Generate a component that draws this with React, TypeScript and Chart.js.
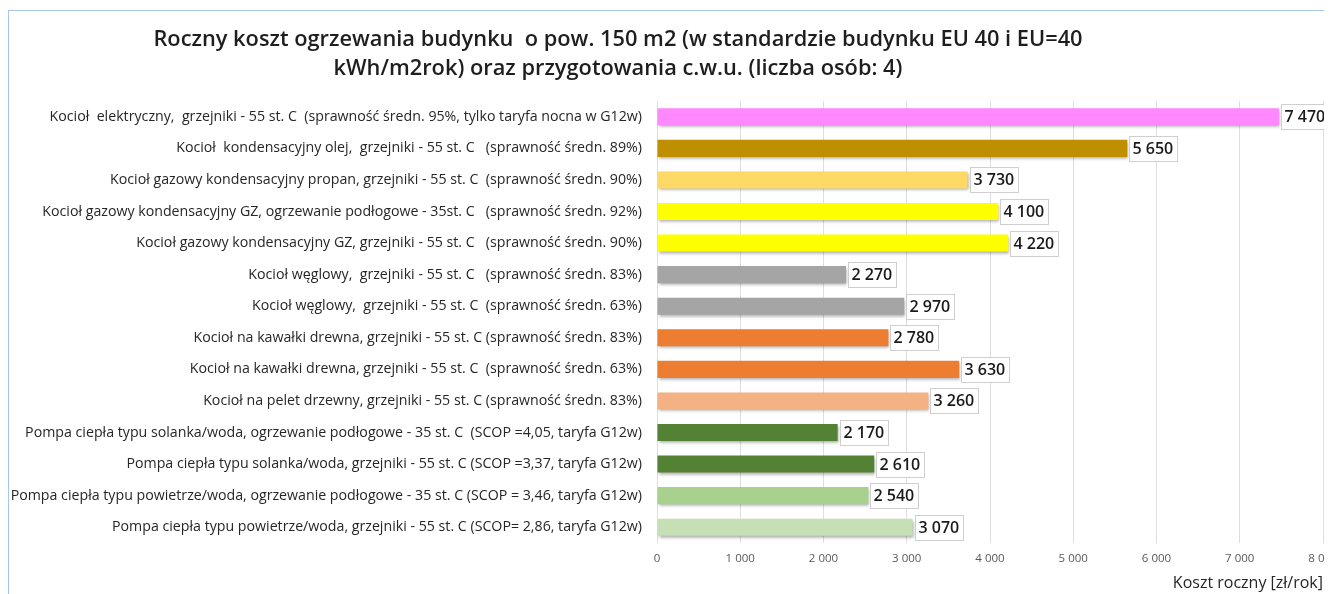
import React, { useEffect, useRef } from "react";
import { Chart, registerables } from "chart.js";

Chart.register(...registerables);

const titleLines = [
  "Roczny koszt ogrzewania budynku  o pow. 150 m2 (w standardzie budynku EU 40 i EU=40",
  "kWh/m2rok) oraz przygotowania c.w.u. (liczba osób: 4)",
];

const categories = [
  "Kocioł  elektryczny,  grzejniki - 55 st. C  (sprawność średn. 95%, tylko taryfa nocna w G12w)",
  "Kocioł  kondensacyjny olej,  grzejniki - 55 st. C   (sprawność średn. 89%)",
  "Kocioł gazowy kondensacyjny propan, grzejniki - 55 st. C  (sprawność średn. 90%)",
  "Kocioł gazowy kondensacyjny GZ, ogrzewanie podłogowe - 35st. C   (sprawność średn. 92%)",
  "Kocioł gazowy kondensacyjny GZ, grzejniki - 55 st. C   (sprawność średn. 90%)",
  "Kocioł węglowy,  grzejniki - 55 st. C   (sprawność średn. 83%)",
  "Kocioł węglowy,  grzejniki - 55 st. C  (sprawność średn. 63%)",
  "Kocioł na kawałki drewna, grzejniki - 55 st. C (sprawność średn. 83%)",
  "Kocioł na kawałki drewna, grzejniki - 55 st. C  (sprawność średn. 63%)",
  "Kocioł na pelet drzewny, grzejniki - 55 st. C (sprawność średn. 83%)",
  "Pompa ciepła typu solanka/woda, ogrzewanie podłogowe - 35 st. C  (SCOP =4,05, taryfa G12w)",
  "Pompa ciepła typu solanka/woda, grzejniki - 55 st. C (SCOP =3,37, taryfa G12w)",
  "Pompa ciepła typu powietrze/woda, ogrzewanie podłogowe - 35 st. C (SCOP = 3,46, taryfa G12w)",
  "Pompa ciepła typu powietrze/woda, grzejniki - 55 st. C (SCOP= 2,86, taryfa G12w)",
];

const values = [7470, 5650, 3730, 4100, 4220, 2270, 2970, 2780, 3630, 3260, 2170, 2610, 2540, 3070];

const barColors = [
  "#FF88FF",
  "#BF8F00",
  "#FFD966",
  "#FFFF00",
  "#FFFF00",
  "#A5A5A5",
  "#A5A5A5",
  "#ED7D31",
  "#ED7D31",
  "#F4B183",
  "#548235",
  "#548235",
  "#A9D18E",
  "#C5E0B4",
];

const xMin = 0;
const xMax = 8000;
const xStep = 1000;
const xAxisTitle = "Koszt roczny [zł/rok]";

const fmt = (v: number) => String(Math.round(v)).replace(/\B(?=(\d{3})+(?!\d))/g, " ");

const barShadow = {
  id: "barShadow",
  beforeDatasetsDraw(chart: any) {
    const c = chart.ctx;
    c.save();
    c.shadowColor = "rgba(0,0,0,0.35)";
    c.shadowBlur = 3;
    c.shadowOffsetX = 1;
    c.shadowOffsetY = 2;
  },
  afterDatasetsDraw(chart: any) {
    chart.ctx.restore();
  },
};

const valueLabels = {
  id: "valueLabels",
  afterDatasetsDraw(chart: any) {
    const ctx = chart.ctx;
    const meta = chart.getDatasetMeta(0);
    ctx.save();
    ctx.font = '600 16px "Open Sans"';
    meta.data.forEach((bar: any, i: number) => {
      const text = fmt(values[i]);
      const w = ctx.measureText(text).width;
      const x = Math.round(bar.x + 2);
      const bh = 25;
      const bw = Math.round(w + 7);
      const top = Math.round(bar.y - bh / 2);
      ctx.fillStyle = "#ffffff";
      ctx.fillRect(x, top, bw, bh);
      ctx.strokeStyle = "#cfcfcf";
      ctx.lineWidth = 1;
      ctx.strokeRect(x + 0.5, top + 0.5, bw, bh);
      ctx.fillStyle = "#1a1a1a";
      ctx.textBaseline = "middle";
      ctx.textAlign = "left";
      ctx.fillText(text, x + 3.5, bar.y + 1);
    });
    ctx.restore();
  },
};

function App() {
  const ref = useRef<HTMLCanvasElement | null>(null);
  useEffect(() => {
    if (!ref.current) return;
    const chart = new Chart(ref.current, {
      type: "bar",
      data: {
        labels: categories,
        datasets: [
          {
            data: values,
            backgroundColor: barColors,
            borderWidth: 0,
            categoryPercentage: 1,
            barPercentage: 0.54,
          },
        ],
      },
      options: {
        indexAxis: "y",
        animation: false,
        responsive: false,
        layout: { padding: { top: 90, right: 24, left: 0, bottom: 0 } },
        plugins: {
          legend: { display: false },
          tooltip: { enabled: false },
        },
        scales: {
          x: {
            min: xMin,
            max: xMax,
            ticks: {
              stepSize: xStep,
              padding: 9,
              color: "#595959",
              font: { family: "Open Sans", size: 11.5 },
              callback: (v: any) => fmt(Number(v)),
            },
            grid: { color: "#dedede", drawTicks: false },
            border: { display: false },
            title: {
              display: true,
              text: xAxisTitle,
              align: "end",
              color: "#262626",
              font: { family: "Open Sans", size: 16 },
              padding: { top: 0, bottom: 2 },
            },
            afterFit: (s: any) => {
              s.height = 52;
            },
          },
          y: {
            ticks: {
              padding: 15,
              color: "#262626",
              font: { family: "Open Sans", size: 14.2 },
              autoSkip: false,
            },
            grid: { display: false, drawTicks: false },
            border: { display: false },
            afterFit: (s: any) => {
              s.width = 648;
            },
          },
        },
      },
      plugins: [barShadow, valueLabels],
    });
    return () => chart.destroy();
  }, []);

  return (
    <div
      style={{
        position: "relative",
        width: 1324,
        height: 584,
        marginTop: 2,
        overflow: "hidden",
        borderLeft: "1px solid #a9c6e8",
        borderTop: "1px solid #a9c6e8",
        boxSizing: "border-box",
        background: "#fff",
      }}
    >
      <canvas ref={ref} width={1338} height={584} style={{ display: "block" }} />
      <div
        style={{
          position: "absolute",
          left: 0,
          top: 12,
          width: 1218,
          textAlign: "center",
          fontFamily: '"Open Sans", sans-serif',
          fontWeight: 600,
          fontSize: 21.8,
          lineHeight: "29px",
          color: "#1e1e1e",
          whiteSpace: "pre",
        }}
      >
        {titleLines.map((t, i) => (
          <div key={i}>{t}</div>
        ))}
      </div>
    </div>
  );
}

export default App;
